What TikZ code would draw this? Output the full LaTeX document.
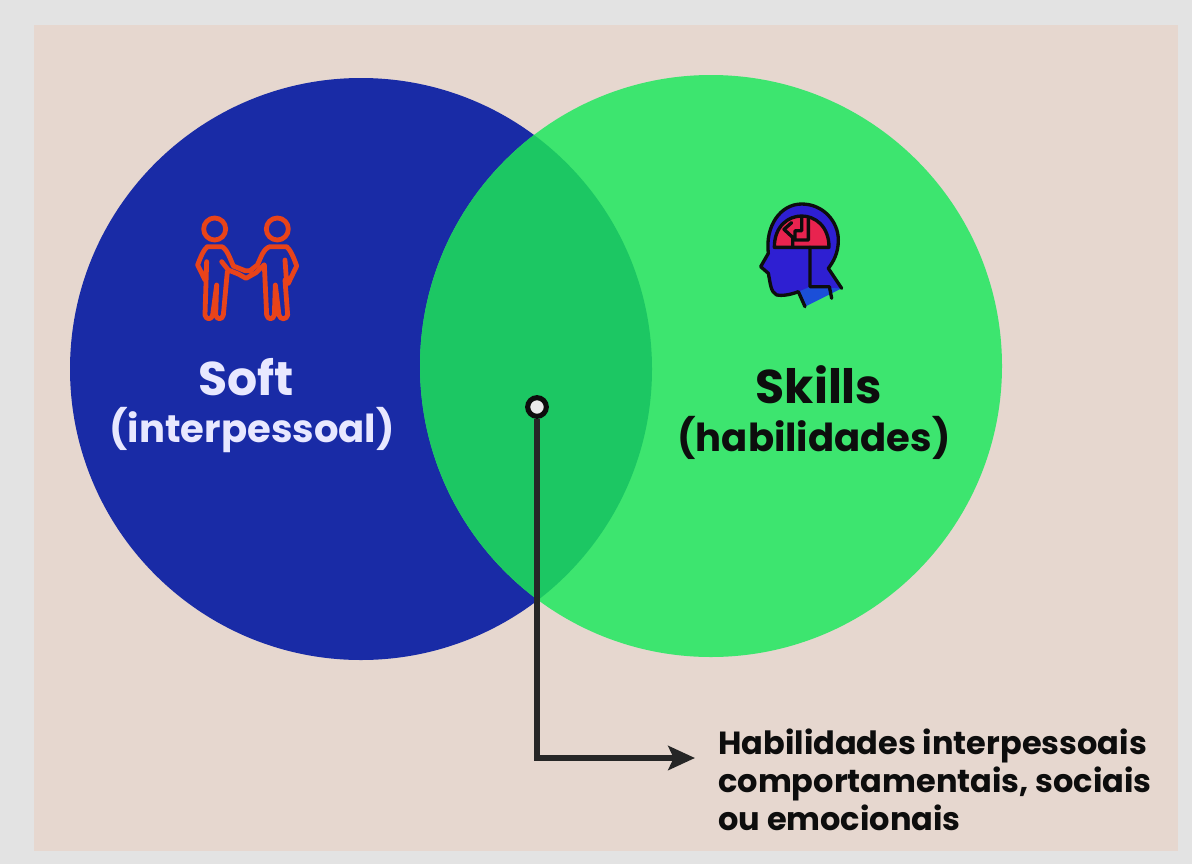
\documentclass[tikz,border=0pt]{standalone}
\usepackage{fontspec}
\setmainfont{Poppins}
\usetikzlibrary{arrows.meta}
\definecolor{pagegray}{HTML}{E3E3E3}
\definecolor{panelrose}{HTML}{E6D7CF}
\definecolor{softblue}{HTML}{192BA6}
\definecolor{skillgreen}{HTML}{3DE56F}
\definecolor{overlapgreen}{HTML}{1CC763}
\definecolor{linkdark}{HTML}{262626}
\definecolor{iconred}{HTML}{E8431A}
\definecolor{headblue}{HTML}{2E1FD2}
\definecolor{neckblue}{HTML}{1B4FD8}
\definecolor{brainred}{HTML}{E8234F}
\tikzset{
	namelabel/.style={font=\bfseries\fontsize{35.5}{40}\selectfont,align=center},
	biglabel/.style={font=\bfseries\fontsize{28.9}{34}\selectfont,align=center},
	notelabel/.style={font=\bfseries\fontsize{24}{28.2}\selectfont,align=left,text=black!95,inner sep=0pt},
	personline/.style={draw=iconred,line width=3.6pt,line join=round,line cap=round},
	headline/.style={draw=black!95,line width=2.5pt,line join=round,line cap=round}}

\begin{document}
\begin{tikzpicture}[x=0.75pt,y=0.75pt,yscale=-1,xscale=1]
	\useasboundingbox (0,0) rectangle (1192,864);

	%Shape: page and panel
	\fill [pagegray] (0,0) rectangle (1192,864);
	\fill [panelrose] (34,25) rectangle (1178,851);

	%Shape: circles
	\fill [softblue] (361,369) circle [radius=291];
	\fill [skillgreen] (711,366) circle [radius=291];
	\begin{scope}
		\clip (361,369) circle [radius=291];
		\fill [overlapgreen] (711,366) circle [radius=291];
	\end{scope}

	%Shape: two people
	\begin{scope}[shift={(170,200)},scale=1/3]
		\draw [personline] (134,87) circle [radius=33];
		\draw [personline] (322,87) circle [radius=33];
		\draw [personline] (155,185) -- (175,210) -- (205,222) -- (228,235) -- (258,218) -- (282,195)
			(112,140) -- (155,140) .. controls (170,145) and (180,175) .. (190,198) -- (225,212) -- (240,212)
			(112,140) .. controls (100,150) and (90,175) .. (83,195) -- (105,240)
			(110,185) -- (105,345) .. controls (108,360) and (125,360) .. (128,345) -- (140,255) -- (137,345) .. controls (140,360) and (157,360) .. (160,345) -- (172,215);
		\draw [personline] (300,140) -- (350,140) .. controls (362,150) and (372,175) .. (380,198) -- (355,250)
			(300,140) .. controls (280,145) and (272,175) .. (262,195) -- (240,212)
			(345,180) -- (350,250)
			(283,195) -- (290,345) .. controls (293,360) and (310,360) .. (313,345) -- (316,255) -- (327,345) .. controls (330,360) and (350,360) .. (353,345) -- (345,240);
	\end{scope}

	%Shape: head with brain
	\begin{scope}[shift={(740,190)},scale=1/3]
		\fill [neckblue] (195,350) -- (172,300) -- (215,288) -- (305,295) -- cycle;
		\fill [headblue] (185,42) .. controls (250,42) and (295,95) .. (295,150) .. controls (295,190) and (280,215) .. (265,235) -- (305,295) -- (210,290) -- (175,305) .. controls (150,315) and (125,318) .. (110,315) .. controls (92,305) and (92,285) .. (85,250) -- (62,230) -- (85,190) .. controls (75,110) and (120,42) .. (185,42) -- cycle;
		\draw [headline] (195,350) -- (175,305) .. controls (150,315) and (125,318) .. (110,315) .. controls (92,305) and (92,285) .. (85,250) -- (62,230) -- (85,190) .. controls (75,110) and (120,42) .. (185,42) .. controls (250,42) and (295,95) .. (295,150) .. controls (295,190) and (280,215) .. (265,235) -- (305,295);
		\draw [headline,fill=brainred] (103,172) .. controls (103,108) and (145,78) .. (185,78) .. controls (225,78) and (267,108) .. (267,172) -- cycle;
		\draw [headline] (210,172) -- (210,290) -- (268,290) -- (275,325)
			(155,98) -- (132,118) -- (158,142) -- (158,170)
			(185,80) -- (185,122) -- (165,122) -- (165,150) -- (205,150) -- (205,85);
	\end{scope}

	%Straight Lines: link to the note
	\node [circle,draw=black!95,line width=3.8pt,fill=white!92!black,minimum size=14pt,inner sep=0pt] (dot) at (537,407) {};
	\coordinate (tip) at (695,758);
	\draw [linkdark,line width=4.4pt,-{Stealth[length=20pt,width=18pt,inset=4pt]}] (dot) |- (tip);

	% Text Node
	\node [namelabel,text=white!91!blue] (softname) at (246,377) {Soft};
	% Text Node
	\node [biglabel,text=white!91!blue] (softnote) at (252,430) {(interpessoal)};
	% Text Node
	\node [namelabel,text=black!95] (skillname) at (819,385) {Skills};
	% Text Node
	\node [biglabel,text=black!95] (skillnote) at (814,438) {(habilidades)};
	% Text Node
	\node [notelabel,anchor=north west] (note) at (718,729) {Habilidades interpessoais\\comportamentais, sociais\\ou emocionais};
\end{tikzpicture}
\end{document}
